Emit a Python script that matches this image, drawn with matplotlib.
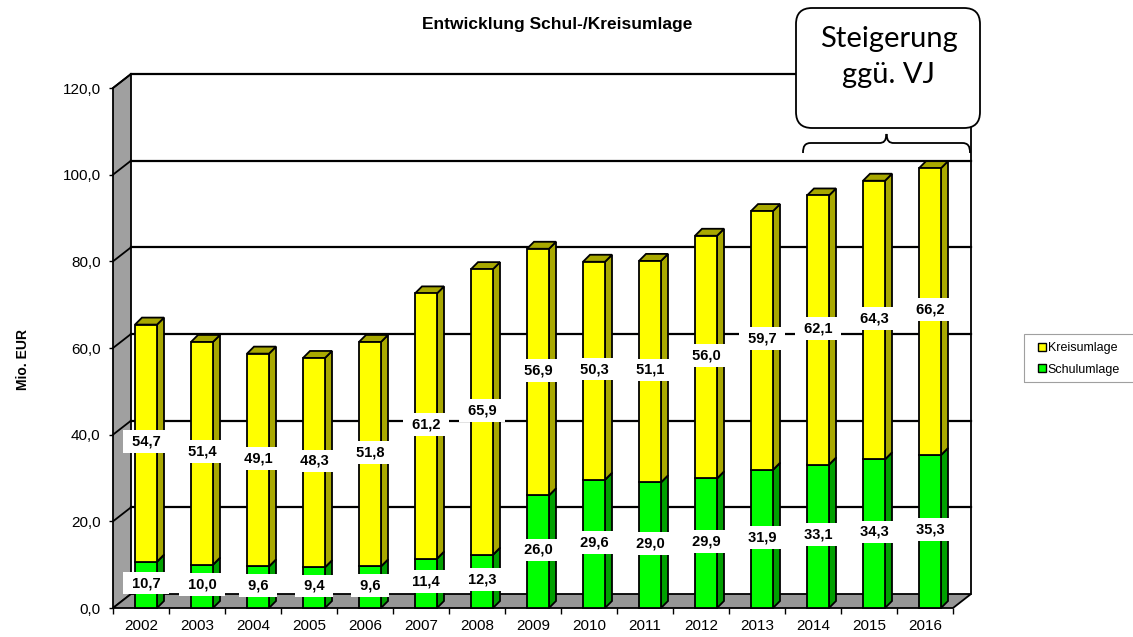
import matplotlib.pyplot as plt
from matplotlib.patches import Polygon, Rectangle, FancyBboxPatch, PathPatch
from matplotlib.path import Path
from matplotlib.lines import Line2D

plt.rcParams['font.family'] = ['Liberation Sans', 'DejaVu Sans']

years = ['2002', '2003', '2004', '2005', '2006', '2007', '2008', '2009',
         '2010', '2011', '2012', '2013', '2014', '2015', '2016']
schulumlage = [10.7, 10.0, 9.6, 9.4, 9.6, 11.4, 12.3, 26.0,
               29.6, 29.0, 29.9, 31.9, 33.1, 34.3, 35.3]
kreisumlage = [54.7, 51.4, 49.1, 48.3, 51.8, 61.2, 65.9, 56.9,
               50.3, 51.1, 56.0, 59.7, 62.1, 64.3, 66.2]
y_ticks = [0, 20, 40, 60, 80, 100, 120]

W, H = 1133, 637
fig = plt.figure(figsize=(W / 100, H / 100), dpi=100)
ax = fig.add_axes([113 / W, 1 - 608 / H, 840 / W, 520 / H])
n = len(years)
ax.set_xlim(-0.5, n - 0.5)
ax.set_ylim(0, 120)

# pixel -> data unit helpers for the fake 3d depth
ux = (n / 840)
uy = 120 / 520
wall_dx, wall_dy = 18 * ux, 14 * uy
bar_dx, bar_dy = 7 * ux, 7 * uy
bar_off, bar_w = -6 * ux, 22 * ux

yellow, yellow_dk = '#ffff00', '#a8a800'
green, green_dk = '#00ff00', '#00a000'
lw = 1.3


def fake(x, y):
    # image pixels -> inches for fig.dpi_scale_trans
    return (x / 100, (H - y) / 100)


# walls and floor
x0, x1 = -0.5, n - 0.5
ax.add_patch(Polygon([(x0, 0), (x0, 120), (x0 + wall_dx, 120 + wall_dy),
                      (x0 + wall_dx, wall_dy)], closed=True,
                     facecolor='#a0a0a0', edgecolor='black', lw=lw,
                     clip_on=False, zorder=1))
ax.add_patch(Polygon([(x0, 0), (x1, 0), (x1 + wall_dx, wall_dy),
                      (x0 + wall_dx, wall_dy)], closed=True,
                     facecolor='#969696', edgecolor='black', lw=lw,
                     clip_on=False, zorder=1))
for v in y_ticks[1:]:
    ax.plot([x0 + wall_dx, x1 + wall_dx], [v + wall_dy] * 2, color='black',
            lw=1.6, clip_on=False, zorder=1)
    ax.plot([x0, x0 + wall_dx], [v, v + wall_dy], color='black', lw=lw,
            clip_on=False, zorder=1)
ax.plot([x1 + wall_dx] * 2, [wall_dy, 120 + wall_dy], color='black', lw=lw,
        clip_on=False, zorder=1)


def block(xl, y0, y1, front, dark):
    xr = xl + bar_w
    kw = dict(edgecolor='black', lw=lw, joinstyle='miter',
              clip_on=False, zorder=3)
    ax.add_patch(Polygon([(xr, y0), (xr + bar_dx, y0 + bar_dy),
                          (xr + bar_dx, y1 + bar_dy), (xr, y1)],
                         closed=True, facecolor=dark, **kw))
    ax.add_patch(Polygon([(xl, y1), (xl + bar_dx, y1 + bar_dy),
                          (xr + bar_dx, y1 + bar_dy), (xr, y1)],
                         closed=True, facecolor=dark, **kw))
    ax.add_patch(Rectangle((xl, y0), bar_w, y1 - y0, facecolor=front, **kw))


def label(x, y, v):
    ax.text(x, y, ' ' + f'{v:.1f}'.replace('.', ',') + ' ', ha='center',
            va='center', fontsize=10.5, fontweight='bold', zorder=5,
            bbox=dict(boxstyle='square,pad=0.3', facecolor='white',
                      edgecolor='none'))


for i in range(n):
    xl = i + bar_off
    s, k = schulumlage[i], kreisumlage[i]
    block(xl, 0, s, green, green_dk)
    block(xl, s, s + k, yellow, yellow_dk)
    xc = xl + bar_w / 2
    label(xc, s / 2 + 0.4, s)
    label(xc, s + k / 2 + 0.4, k)

# axes, ticks
for sp in ax.spines.values():
    sp.set_visible(False)
ax.set_yticks(y_ticks)
ax.set_yticklabels([f'{v:.1f}'.replace('.', ',') for v in y_ticks],
                   fontsize=11)
ax.tick_params(axis='y', length=3, width=1, pad=6)
ax.set_xticks(range(n))
ax.set_xticklabels(years, fontsize=11)
ax.set_xticks([i - 0.5 for i in range(n + 1)], minor=True)
ax.tick_params(axis='x', which='major', length=0, pad=8)
ax.tick_params(axis='x', which='minor', length=4, width=1)
ax.patch.set_visible(False)

fig.text(557 / W, 1 - 25 / H, 'Entwicklung Schul-/Kreisumlage',
         ha='center', va='center', fontsize=12.5, fontweight='bold')
fig.text(23 / W, 1 - 359 / H, 'Mio. EUR', rotation=90, ha='center',
         va='center', fontsize=10, fontweight='bold')

# legend
handles = [Line2D([], [], marker='s', ls='none', mfc=yellow, mec='black',
                  ms=6, mew=1),
           Line2D([], [], marker='s', ls='none', mfc=green, mec='black',
                  ms=6, mew=1)]
fig.legend(handles, ['Kreisumlage', 'Schulumlage'], loc='center left',
           bbox_to_anchor=(1031 / W, 1 - 359 / H), frameon=False,
           fontsize=9, handlelength=0.7, handletextpad=0.15,
           labelspacing=0.75, borderpad=0)
fig.patches.append(Rectangle(fake(1024, 382), 1.2, 0.48, fill=False,
                             edgecolor='#a0a0a0', lw=0.8,
                             transform=fig.dpi_scale_trans))

# callout and brace
fig.patches.append(FancyBboxPatch(fake(796, 128), 1.84, 1.20,
                                  boxstyle='round,pad=0,rounding_size=0.16',
                                  facecolor='white', edgecolor='black',
                                  lw=1.3, transform=fig.dpi_scale_trans,
                                  zorder=6))
for txt, base in [('Steigerung', 47), ('ggü. VJ', 83)]:
    fig.text(889 / W, 1 - base / H, txt, ha='center', va='baseline',
             fontsize=21, family=['Lato', 'DejaVu Sans'], zorder=7)
pts = [(803, 153), (803, 146), (805, 143), (811, 143), (879, 143),
       (884, 143), (886, 141), (886.5, 134), (887, 141), (889, 143),
       (894, 143), (962, 143), (968, 143), (970, 146), (970, 153)]
codes = [Path.MOVETO, Path.CURVE4, Path.CURVE4, Path.CURVE4, Path.LINETO,
         Path.CURVE4, Path.CURVE4, Path.CURVE4, Path.CURVE4, Path.CURVE4,
         Path.CURVE4, Path.LINETO, Path.CURVE4, Path.CURVE4, Path.CURVE4]
fig.patches.append(PathPatch(Path([fake(x, y) for x, y in pts], codes),
                             fill=False, edgecolor='black', lw=1.3,
                             transform=fig.dpi_scale_trans))

fig.savefig('out.png', dpi=100)
